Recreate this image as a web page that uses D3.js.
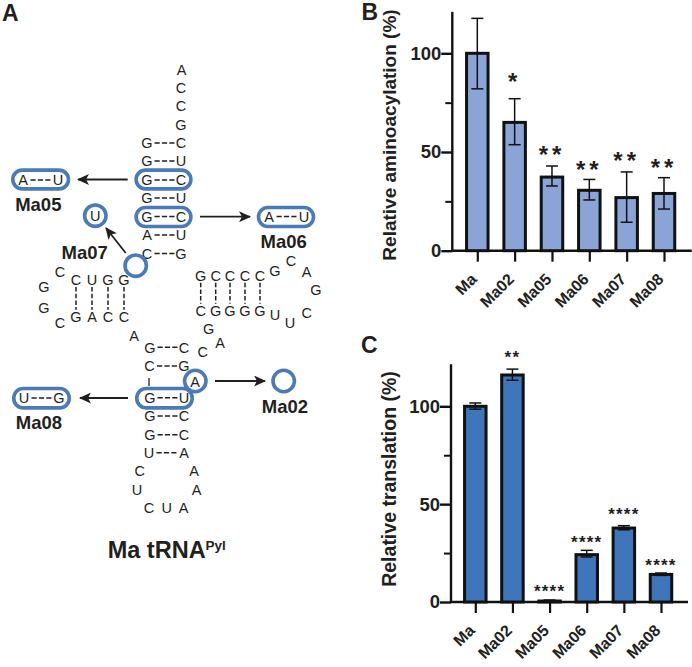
<!DOCTYPE html>
<html>
<head>
<meta charset="utf-8">
<script src="https://cdn.jsdelivr.net/npm/d3@7"></script>
<style>
html, body { margin: 0; padding: 0; background: #fff; }
text { font-family: "Liberation Sans", Arial, sans-serif; fill: #231f20; }
</style>
</head>
<body>
<svg id="fig" width="692" height="667"></svg>
<script>
// chart data
var categories = ["Ma", "Ma02", "Ma05", "Ma06", "Ma07", "Ma08"];

var aminoValues = [100, 65, 37.3, 30.6, 26.9, 29];
var aminoUpper = [117.7, 77, 42.9, 36.1, 39.9, 37];
var aminoLower = [82, 53.7, 32.8, 25.7, 14.4, 21.1];
var aminoStars = ["", "*", "**", "**", "**", "**"];
var aminoStarLevel = [0, 88, 51, 43.4, 48, 44.6];

var transValues = [100, 116, 0.5, 24.2, 37.8, 14.1];
var transUpper = [101.7, 119, 1, 26.4, 39, 14.8];
var transLower = [98.5, 113.3, 0.2, 23, 36.9, 13.6];
var transStars = ["", "**", "****", "****", "****", "****"];
var transStarLevel = [0, 126.6, 7, 32.2, 46.7, 20.6];

var majorTicks = [0, 50, 100];
var minorTicks = [25, 75];

var svg = d3.select("#fig");
var ink = "#111";

//bar panels
function barPanel(o) {
    var g = svg.append("g");
    var y = d3.scaleLinear().domain([0, 100]).range([o.y0, o.y100]);
    var x = d3.scalePoint().domain(categories).range([o.x0, o.x1]);
    var barW = 21.5;

    // y axis
    var left = g.append("g").attr("transform", "translate(" + o.axisX + ",0)")
        .call(d3.axisLeft(y).tickValues(majorTicks).tickSize(11).tickPadding(0).tickFormat(d3.format("d")));
    left.select(".domain").remove();
    left.selectAll("line").attr("stroke", ink).attr("stroke-width", 2.4);
    left.selectAll("text").style("font-size", "18.5px").style("font-weight", "bold");

    var minor = g.append("g").attr("transform", "translate(" + o.axisX + ",0)")
        .call(d3.axisLeft(y).tickValues(minorTicks).tickSize(7).tickFormat(""));
    minor.select(".domain").remove();
    minor.selectAll("line").attr("stroke", ink).attr("stroke-width", 2);

    g.append("line").attr("x1", o.axisX).attr("x2", o.axisX)
        .attr("y1", y(0) + 1).attr("y2", y(o.top))
        .attr("stroke", ink).attr("stroke-width", 2.4);

    // x axis
    var bottom = g.append("g").attr("transform", "translate(0," + y(0) + ")")
        .call(d3.axisBottom(x).tickSize(11).tickFormat(""));
    bottom.select(".domain").remove();
    bottom.selectAll("line").attr("stroke", ink).attr("stroke-width", 2.2);
    g.append("line").attr("x1", o.axisX).attr("x2", o.xEnd)
        .attr("y1", y(0)).attr("y2", y(0))
        .attr("stroke", ink).attr("stroke-width", 2.4);

    g.selectAll(".cat").data(categories).enter().append("text")
        .attr("class", "cat")
        .attr("text-anchor", "end")
        .attr("transform", function (d) {
            return "translate(" + (x(d) + 0.5) + "," + (y(0) + 29.5) + ") rotate(-45)";
        })
        .style("font-size", "16px").style("font-weight", "bold")
        .text(function (d) { return d; });

    // bars
    g.selectAll(".bar").data(categories).enter().append("rect")
        .attr("class", "bar")
        .attr("x", function (d) { return x(d) - barW / 2; })
        .attr("width", barW)
        .attr("y", function (d, i) { return y(o.values[i]); })
        .attr("height", function (d, i) { return y(0) - y(o.values[i]); })
        .attr("fill", o.color).attr("stroke", ink).attr("stroke-width", 3);

    // error bars
    var err = g.selectAll(".err").data(categories).enter().append("g").attr("class", "err")
        .attr("stroke", ink).attr("stroke-width", 1.5);
    err.append("line")
        .attr("x1", function (d) { return x(d); }).attr("x2", function (d) { return x(d); })
        .attr("y1", function (d, i) { return y(o.upper[i]); })
        .attr("y2", function (d, i) { return y(o.lower[i]); });
    [o.upper, o.lower].forEach(function (arr) {
        err.append("line")
            .attr("x1", function (d) { return x(d) - 6; }).attr("x2", function (d) { return x(d) + 6; })
            .attr("y1", function (d, i) { return y(arr[i]); })
            .attr("y2", function (d, i) { return y(arr[i]); });
    });

    // significance
    g.selectAll(".star").data(categories).enter().append("text")
        .attr("class", "star")
        .attr("text-anchor", "middle")
        .attr("x", function (d) { return x(d); })
        .attr("y", function (d, i) { return y(o.starLevel[i]) + o.starShift; })
        .style("font-size", o.starSize + "px").style("font-weight", "bold")
        .style("letter-spacing", o.starGap + "px")
        .text(function (d, i) { return o.stars[i]; });

    // y title
    g.append("text")
        .attr("transform", "translate(" + o.titleX + "," + o.titleY + ") rotate(-90)")
        .attr("text-anchor", "middle")
        .style("font-size", o.titleSize + "px").style("font-weight", "bold")
        .text(o.title);
}

barPanel({
    values: aminoValues, upper: aminoUpper, lower: aminoLower,
    stars: aminoStars, starLevel: aminoStarLevel, starSize: 24, starGap: 4, starShift: 13,
    color: "#8aa4d7", title: "Relative aminoacylation (%)", titleX: 396, titleY: 135, titleSize: 19,
    y0: 250.7, y100: 53.3, top: 121, axisX: 452.3, x0: 477.3, x1: 664, xEnd: 691.7
});

barPanel({
    values: transValues, upper: transUpper, lower: transLower,
    stars: transStars, starLevel: transStarLevel, starSize: 17, starGap: 1.2, starShift: 9,
    color: "#3f75ba", title: "Relative translation (%)", titleX: 396, titleY: 479, titleSize: 19.5,
    y0: 602, y100: 406.3, top: 121.5, axisX: 451, x0: 475.3, x1: 661, xEnd: 688
});

// tRNA cloverleaf, layout in page pixels
var pairs = [
    ["G", "C", 147, 181, 143], ["G", "U", 147, 181, 161], ["G", "C", 147, 181, 180],
    ["G", "U", 147, 181, 198], ["G", "C", 147, 181, 216.5], ["A", "U", 147, 181, 235],
    ["C", "G", 147, 181, 253.5],
    ["G", "C", 150, 184, 347.3], ["C", "G", 149.5, 184, 366], ["G", "U", 150, 184, 397.7],
    ["G", "C", 150, 184, 416], ["G", "C", 150, 184, 434.7], ["U", "A", 149, 184, 452.7]
];
var modPairs = [["A", "U", 23, 58, 180], ["A", "U", 269, 304, 216.5], ["U", "G", 24, 59, 398]];
var vPairs = [
    ["C", "G", 76], ["U", "A", 92], ["G", "C", 108], ["G", "C", 124]
];
var vPairs2 = [
    ["G", "C", 200.7], ["C", "G", 215.7], ["C", "G", 230], ["C", "G", 245], ["C", "G", 260]
];
var singles = [
    ["A", 181.5, 69.5], ["C", 181, 88], ["C", 181, 106], ["G", 181, 124.5],
    ["C", 60, 272], ["G", 44, 287], ["G", 44, 308], ["C", 60, 323],
    ["G", 275, 270.7], ["C", 291, 260.7], ["A", 306.7, 271.7], ["G", 316, 290],
    ["C", 306.7, 312.7], ["U", 290, 323], ["U", 275, 315],
    ["A", 134, 335.7], ["G", 208.7, 329], ["A", 220, 343], ["C", 202.7, 351.7],
    ["A", 195, 381.7],
    ["C", 139.7, 471], ["A", 194, 471], ["U", 137, 489.3], ["A", 196.7, 489.3],
    ["C", 149, 507.7], ["U", 166.7, 507.7], ["A", 183.7, 507.7],
    ["U", 95.3, 215.7]
];
var pills = [
    [134.3, 168.3, 192.7, 190.7], [134.3, 205.7, 192.7, 228.3], [11, 168.3, 70.3, 190.7],
    [256.7, 205.7, 315.3, 228.3], [135, 386.7, 194, 409.7], [12, 386.7, 71, 409.7]
];
var rings = [[95.3, 215.7], [135.7, 265.7], [283.7, 381], [195.3, 381]];
var arrows = [
    [127.7, 179.5, 78, 179.5], [200, 216.7, 250, 216.7], [125.7, 253, 106, 228],
    [215, 381, 265, 381], [128, 398, 80, 398]
];
var names = [
    ["Ma05", 38.3, 211], ["Ma06", 283.7, 248], ["Ma07", 84.7, 259],
    ["Ma02", 285, 413], ["Ma08", 39, 429]
];

var rna = svg.append("g");
var blue = "#4a7ab8";
var dark = "#231f20";

function nt(sel) {
    sel.attr("text-anchor", "middle").attr("dy", "0.36em").style("font-size", "14.5px");
}

svg.append("defs").append("marker").attr("id", "head")
    .attr("viewBox", "0 0 12 11").attr("refX", 11).attr("refY", 5.5)
    .attr("markerWidth", 12).attr("markerHeight", 11).attr("markerUnits", "userSpaceOnUse")
    .attr("orient", "auto")
    .append("path").attr("d", "M0,0L12,5.5L0,11L3,5.5Z").attr("fill", dark);

var allPairs = pairs.concat(modPairs);
rna.selectAll(".dash").data(allPairs).enter().append("line")
    .attr("x1", function (d) { return d[2] + 7.5; }).attr("x2", function (d) { return d[3] - 6.5; })
    .attr("y1", function (d) { return d[4]; }).attr("y2", function (d) { return d[4]; })
    .attr("stroke", dark).attr("stroke-width", 1.5).attr("stroke-dasharray", "5.2 2.2");
rna.selectAll(".pl").data(allPairs).enter().append("text").call(nt)
    .attr("x", function (d) { return d[2]; }).attr("y", function (d) { return d[4]; })
    .text(function (d) { return d[0]; });
rna.selectAll(".pr").data(allPairs).enter().append("text").call(nt)
    .attr("x", function (d) { return d[3]; }).attr("y", function (d) { return d[4]; })
    .text(function (d) { return d[1]; });

[[vPairs, 280, 316.7], [vPairs2, 275.7, 310.7]].forEach(function (s) {
    rna.selectAll(null).data(s[0]).enter().append("line")
        .attr("x1", function (d) { return d[2]; }).attr("x2", function (d) { return d[2]; })
        .attr("y1", s[1] + 7).attr("y2", s[2] - 7)
        .attr("stroke", dark).attr("stroke-width", 1.5).attr("stroke-dasharray", "4.5 2.2");
    rna.selectAll(null).data(s[0]).enter().append("text").call(nt)
        .attr("x", function (d) { return d[2]; }).attr("y", s[1])
        .text(function (d) { return d[0]; });
    rna.selectAll(null).data(s[0]).enter().append("text").call(nt)
        .attr("x", function (d) { return d[2]; }).attr("y", s[2])
        .text(function (d) { return d[1]; });
});

rna.selectAll(".single").data(singles).enter().append("text").call(nt)
    .attr("class", "single")
    .attr("x", function (d) { return d[1]; }).attr("y", function (d) { return d[2]; })
    .text(function (d) { return d[0]; });

// broken backbone next to the A ring
rna.append("line").attr("x1", 149).attr("x2", 149).attr("y1", 378).attr("y2", 386)
    .attr("stroke", dark).attr("stroke-width", 1.3);

rna.selectAll(".pill").data(pills).enter().append("rect")
    .attr("x", function (d) { return d[0] + 1.8; })
    .attr("y", function (d) { return d[1] + 1.8; })
    .attr("width", function (d) { return d[2] - d[0] - 3.6; })
    .attr("height", function (d) { return d[3] - d[1] - 3.6; })
    .attr("rx", 9.5).attr("ry", 9.5)
    .attr("fill", "none").attr("stroke", blue).attr("stroke-width", 3.6);

rna.selectAll(".ring").data(rings).enter().append("circle")
    .attr("cx", function (d) { return d[0]; }).attr("cy", function (d) { return d[1]; })
    .attr("r", 10.7)
    .attr("fill", "none").attr("stroke", blue).attr("stroke-width", 3.6);

rna.selectAll(".arrow").data(arrows).enter().append("line")
    .attr("x1", function (d) { return d[0]; }).attr("y1", function (d) { return d[1]; })
    .attr("x2", function (d) { return d[2]; }).attr("y2", function (d) { return d[3]; })
    .attr("stroke", dark).attr("stroke-width", 1.8).attr("marker-end", "url(#head)");

rna.selectAll(".name").data(names).enter().append("text")
    .attr("text-anchor", "middle")
    .attr("x", function (d) { return d[1]; }).attr("y", function (d) { return d[2]; })
    .style("font-size", "18.5px").style("font-weight", "bold")
    .text(function (d) { return d[0]; });

var title = rna.append("text").attr("x", 107.7).attr("y", 557.7)
    .style("font-size", "23.5px").style("font-weight", "bold");
title.append("tspan").text("Ma tRNA");
title.append("tspan").attr("dy", -8).style("font-size", "13.5px").text("Pyl");

// panel letters
[["A", 2, 21], ["B", 361.5, 20], ["C", 361, 352.5]].forEach(function (p) {
    svg.append("text").attr("x", p[1]).attr("y", p[2])
        .style("font-size", "23px").style("font-weight", "bold").text(p[0]);
});
</script>
</body>
</html>
